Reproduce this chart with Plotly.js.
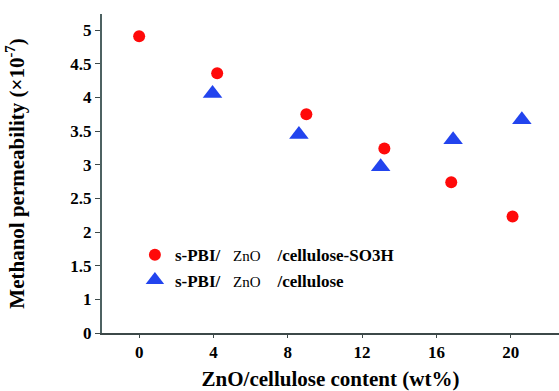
<!DOCTYPE html>
<html>
<head>
<meta charset="utf-8">
<script src="https://cdn.plot.ly/plotly-3.0.1.min.js"></script>
<style>html,body{margin:0;padding:0;background:#fff;}#chart{width:559px;height:391px;}</style>
</head>
<body>
<div id="chart"></div>
<script>
// Data
const sulfoX = [0, 4.2, 9.0, 13.2, 16.8, 20.1];
const sulfoY = [4.91, 4.36, 3.75, 3.24, 2.74, 2.23];
const celluX = [3.95, 8.6, 13.0, 16.9, 20.6];
const celluY = [4.06, 3.45, 2.97, 3.37, 3.67];
const sulfoName = "<b>s-PBI/</b>&nbsp;&nbsp;&nbsp;<span style='font-size:15px'>ZnO</span>&nbsp;&nbsp;&nbsp;&nbsp;<b>/cellulose-SO3H</b>";
const celluName = "<b>s-PBI/</b>&nbsp;&nbsp;&nbsp;<span style='font-size:15px'>ZnO</span>&nbsp;&nbsp;&nbsp;&nbsp;<b>/cellulose</b>";
const xTickVals = [0, 4, 8, 12, 16, 20];
const yTickVals = [0.5, 1, 1.5, 2, 2.5, 3, 3.5, 4, 4.5, 5];
const yTickText = ["0", "1", "1.5", "2", "2.5", "3", "3.5", "4", "4.5", "5"];

const serif = "Times New Roman";

const traces = [
  {x: sulfoX, y: sulfoY, name: sulfoName, type: "scatter", mode: "markers",
   marker: {symbol: "circle", size: 12, color: "#ff0a0a"}},
  {x: celluX, y: celluY, name: celluName, type: "scatter", mode: "markers",
   marker: {symbol: "triangle-up", size: 17, color: "#2244ee"}}
];

const layout = {
  width: 559, height: 391,
  margin: {l: 102, r: 0, t: 14, b: 58},
  paper_bgcolor: "#fff", plot_bgcolor: "#fff",
  showlegend: true,
  font: {family: serif, color: "#000"},
  legend: {x: 0.072, y: 0.30, xanchor: "left", yanchor: "top",
           font: {family: serif, size: 17, color: "#000"}, bgcolor: "rgba(0,0,0,0)"},
  xaxis: {
    range: [-2.0, 22.6], tickvals: xTickVals, ticktext: xTickVals.map(v => "<b>" + v + "</b>"),
    showgrid: false, zeroline: false, showline: true, linecolor: "#3c4848", linewidth: 1.5,
    ticks: "outside", ticklen: 3, tickcolor: "#3c4848",
    tickfont: {family: serif, size: 17, color: "#000"},
    title: {text: "<b>ZnO/cellulose content (wt%)</b>", font: {family: serif, size: 21, color: "#000"}, standoff: 14}
  },
  yaxis: {
    range: [0.5, 5.24], tickvals: yTickVals, ticktext: yTickText.map(t => "<b>" + t + "</b>"),
    showgrid: false, zeroline: false, showline: true, linecolor: "#4d6262", linewidth: 2,
    ticks: "outside", ticklen: 5, tickcolor: "#3c4848",
    tickfont: {family: serif, size: 17, color: "#000"},
    title: {text: "<b>Methanol permeability (×10<sup>-7</sup>)</b>", font: {family: serif, size: 21, color: "#000"}, standoff: 40}
  }
};

Plotly.newPlot("chart", traces, layout, {displayModeBar: false, staticPlot: true});
</script>
</body>
</html>
